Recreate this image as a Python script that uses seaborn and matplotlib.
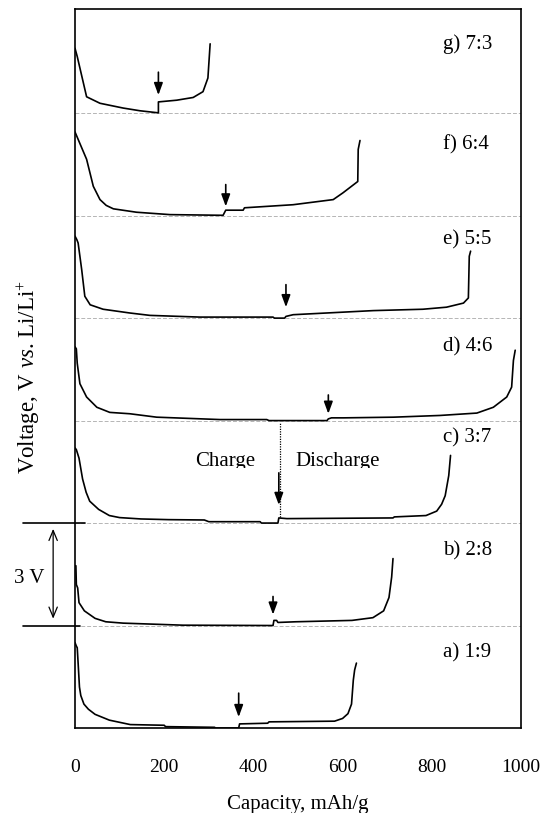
import numpy as np
import pandas as pd
import matplotlib
matplotlib.use("Agg")
import matplotlib.pyplot as plt
import seaborn as sns
from matplotlib.transforms import Bbox, TransformedBbox

# ---------------- data (capacity mAh/g, voltage V relative to own baseline) ----------------
samples = ["a) 1:9", "b) 2:8", "c) 3:7", "d) 4:6", "e) 5:5", "f) 6:4", "g) 7:3"]
offsets = [0, 3, 6, 9, 12, 15, 18]   # 3 V stacking offset
label_dy = [2.2, 2.2, 2.5, 2.15, 2.3, 2.08, 2.02]

cap_a = [0, 3, 5, 7, 10, 13, 20, 30, 45, 77, 124, 200, 203, 313, 315, 367, 369, 432, 435, 582, 600, 612, 620, 624, 627, 631]
v_a   = [2.5, 2.4, 2.35, 1.9, 1.2, 0.95, 0.7, 0.55, 0.4, 0.23, 0.1, 0.08, 0.04, 0.02, 0.0, 0.0, 0.12, 0.14, 0.18, 0.2, 0.28, 0.42, 0.7, 1.4, 1.7, 1.9]

cap_b = [0, 2, 3, 6, 9, 21, 45, 69, 108, 242, 444, 446, 452, 455, 495, 621, 668, 692, 704, 710, 713]
v_b   = [1.75, 1.75, 1.2, 1.1, 0.67, 0.43, 0.21, 0.11, 0.07, 0.01, 0.0, 0.15, 0.15, 0.09, 0.11, 0.15, 0.23, 0.43, 0.82, 1.42, 1.96]

cap_c = [0, 3, 9, 17, 25, 33, 53, 77, 100, 148, 210, 290, 300, 415, 418, 455, 457, 475, 713, 716, 787, 811, 822, 830, 838, 842]
v_c   = [2.2, 2.15, 1.9, 1.29, 0.9, 0.64, 0.4, 0.22, 0.16, 0.12, 0.1, 0.09, 0.04, 0.04, 0.0, 0.0, 0.15, 0.13, 0.15, 0.18, 0.22, 0.35, 0.55, 0.8, 1.39, 1.98]

cap_d = [0, 3, 5, 11, 26, 49, 78, 123, 183, 325, 430, 435, 565, 568, 575, 602, 714, 818, 901, 938, 968, 979, 983, 987]
v_d   = [2.16, 2.1, 1.68, 1.08, 0.69, 0.39, 0.24, 0.2, 0.1, 0.03, 0.03, 0.0, 0.0, 0.05, 0.08, 0.08, 0.1, 0.15, 0.22, 0.39, 0.69, 0.98, 1.76, 2.06]

cap_e = [0, 4, 7, 15, 22, 34, 63, 123, 168, 280, 444, 447, 470, 473, 489, 564, 669, 780, 833, 871, 882, 884, 887]
v_e   = [2.4, 2.3, 2.2, 1.42, 0.64, 0.39, 0.26, 0.15, 0.08, 0.03, 0.03, 0.0, 0.0, 0.05, 0.1, 0.15, 0.22, 0.26, 0.32, 0.44, 0.59, 1.81, 1.96]

cap_f = [0, 26, 41, 56, 70, 86, 138, 213, 332, 338, 377, 380, 489, 579, 601, 634, 635, 639]
v_f   = [2.45, 1.65, 0.86, 0.47, 0.3, 0.2, 0.1, 0.03, 0.01, 0.16, 0.16, 0.23, 0.32, 0.47, 0.67, 1.0, 1.94, 2.2]

cap_g = [0, 5, 26, 56, 108, 146, 187, 187, 228, 265, 287, 298, 303]
v_g   = [1.9, 1.66, 0.48, 0.29, 0.15, 0.07, 0.01, 0.33, 0.38, 0.46, 0.63, 1.03, 2.03]

# charge/discharge switch positions (arrows) and arrow extents above baseline
arrow_cap  = [367, 444, 457, 568, 473, 338, 187]
arrow_tail = [1.02, 0.85, 1.47, 0.75, 0.98, 0.91, 1.2]
arrow_tip  = [0.32, 0.32, 0.53, 0.2, 0.32, 0.27, 0.53]

xticks = [0, 200, 400, 600, 800, 1000]

caps = [cap_a, cap_b, cap_c, cap_d, cap_e, cap_f, cap_g]
volts = [v_a, v_b, v_c, v_d, v_e, v_f, v_g]

frames = []
for name, off, c, v in zip(samples, offsets, caps, volts):
    frames.append(pd.DataFrame({"cap": c, "volt": np.array(v) + off, "sample": name}))
df = pd.concat(frames, ignore_index=True)

# ---------------- style ----------------
sns.set_theme(style="white")
plt.rcParams["font.family"] = ["Liberation Serif", "DejaVu Serif"]
plt.rcParams["mathtext.fontset"] = "custom"
plt.rcParams["mathtext.rm"] = "Liberation Serif"
plt.rcParams["mathtext.it"] = "Liberation Serif:italic"

fig = plt.figure(figsize=(5.5, 8.13), dpi=100)
ax = fig.add_axes([75/550, 85/813, 446/550, 719/813])

sns.lineplot(data=df, x="cap", y="volt", hue="sample", palette=["black"]*7,
             sort=False, estimator=None, legend=False, lw=1.2, ax=ax)

ax.set_xlim(0, 1000)
ax.set_ylim(0, 21.05)
ax.set_xticks(xticks)
ax.set_xticklabels([str(t) for t in xticks])
ax.set_yticks([])
ax.tick_params(axis="x", length=0, pad=22, labelsize=14, colors="black")
for s in ax.spines.values():
    s.set_color("black")
    s.set_linewidth(1.2)

ax.set_xlabel("Capacity, mAh/g", fontsize=15, labelpad=14, color="black")
ax.set_ylabel("Voltage, V $\\mathit{vs}$. Li/Li$^{+}$", fontsize=16.5, color="black")
ax.yaxis.set_label_coords(-0.074, 0.488)

# faint dotted baselines
for off in offsets[1:]:
    ax.axhline(off, color="#b5b5b5", lw=0.7, ls=(0, (4, 2)), zorder=0)

# sample labels
for name, off, dy in zip(samples, offsets, label_dy):
    ax.text(826, off + dy, name, fontsize=15, ha="left", va="center", color="black")

# switch arrows
for xc, off, t0, t1 in zip(arrow_cap, offsets, arrow_tail, arrow_tip):
    ax.annotate("", xy=(xc, off + t1), xytext=(xc, off + t0),
                arrowprops=dict(arrowstyle="-|>,head_length=0.6,head_width=0.22",
                                lw=1.2, color="black", shrinkA=0, shrinkB=0))

# charge / discharge divider on c)
ax.plot([460, 460], [6.17, 8.93], color="black", lw=0.9, ls=(0, (1, 1)))
clip = TransformedBbox(Bbox([[0, 7.62], [1000, 21]]), ax.transData)
for txt, xx in [("Charge", 269), ("Discharge", 493)]:
    t = ax.text(xx, 8.07, txt, fontsize=15, ha="left", va="top", color="black")
    t.set_clip_box(clip)
    t.set_clip_on(True)

# 3 V scale bar
ax.plot([-117, 22], [6, 6], color="black", lw=1.2, clip_on=False)
ax.plot([-117, 12], [3, 3], color="black", lw=1.2, clip_on=False)
ax.annotate("", xy=(-49, 6 - 0.17), xytext=(-49, 3 + 0.2),
            arrowprops=dict(arrowstyle="<->,head_length=0.6,head_width=0.25",
                            lw=0.9, color="black", shrinkA=0, shrinkB=0),
            annotation_clip=False)
ax.text(-103, 4.39, "3 V", fontsize=15, ha="center", va="center", color="black", clip_on=False)

fig.savefig("out.png", dpi=100)
